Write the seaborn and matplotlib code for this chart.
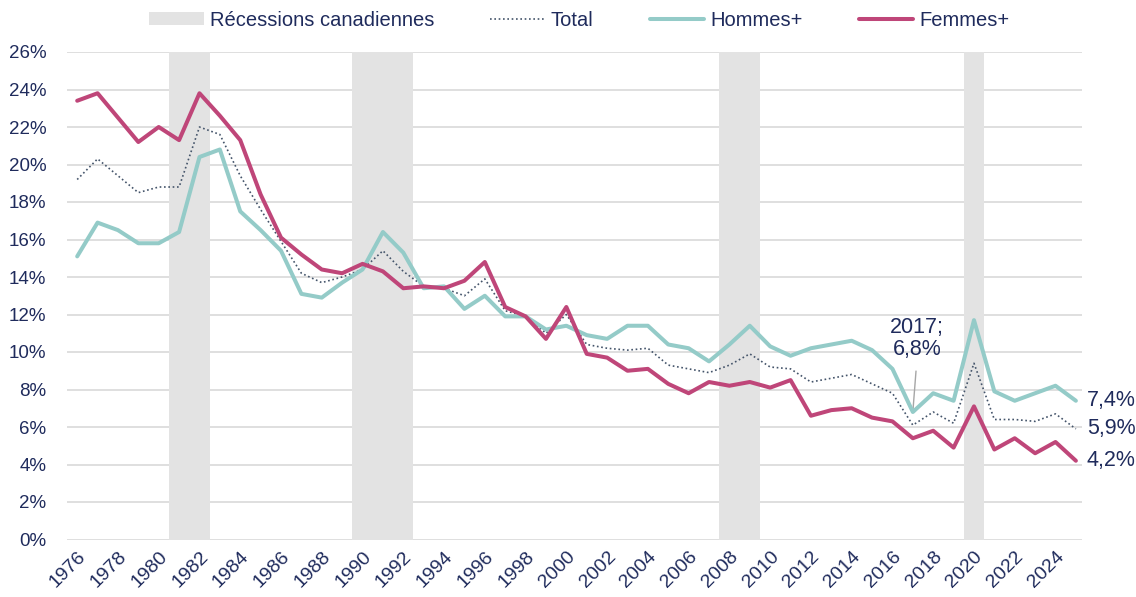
import matplotlib
matplotlib.use("Agg")
import matplotlib.pyplot as plt
from matplotlib.patches import Patch
from matplotlib.lines import Line2D
from matplotlib.ticker import FuncFormatter, MultipleLocator
import seaborn as sns
import pandas as pd
import numpy as np

# ---------------- data ----------------
years = list(range(1976, 2026))

total = [19.2, 20.3, 19.4, 18.5, 18.8, 18.8, 22.0, 21.6, 19.4, 17.6,
         15.9, 14.2, 13.7, 14.0, 14.4, 15.4, 14.3, 13.5, 13.4, 13.0,
         13.9, 12.2, 11.9, 11.0, 12.0, 10.4, 10.2, 10.1, 10.2, 9.3,
         9.1, 8.9, 9.3, 9.9, 9.2, 9.1, 8.4, 8.6, 8.8, 8.3,
         7.8, 6.1, 6.8, 6.2, 9.4, 6.4, 6.4, 6.3, 6.7, 5.9]

hommes = [15.1, 16.9, 16.5, 15.8, 15.8, 16.4, 20.4, 20.8, 17.5, 16.5,
          15.4, 13.1, 12.9, 13.7, 14.4, 16.4, 15.3, 13.4, 13.5, 12.3,
          13.0, 11.9, 11.9, 11.2, 11.4, 10.9, 10.7, 11.4, 11.4, 10.4,
          10.2, 9.5, 10.4, 11.4, 10.3, 9.8, 10.2, 10.4, 10.6, 10.1,
          9.1, 6.8, 7.8, 7.4, 11.7, 7.9, 7.4, 7.8, 8.2, 7.4]

femmes = [23.4, 23.8, 22.5, 21.2, 22.0, 21.3, 23.8, 22.6, 21.3, 18.4,
          16.1, 15.2, 14.4, 14.2, 14.7, 14.3, 13.4, 13.5, 13.4, 13.8,
          14.8, 12.4, 11.9, 10.7, 12.4, 9.9, 9.7, 9.0, 9.1, 8.3,
          7.8, 8.4, 8.2, 8.4, 8.1, 8.5, 6.6, 6.9, 7.0, 6.5,
          6.3, 5.4, 5.8, 4.9, 7.1, 4.8, 5.4, 4.6, 5.2, 4.2]

rec_start = [1981, 1990, 2008, 2020]
rec_end = [1982, 1992, 2009, 2020]

series_names = ["Total", "Hommes+", "Femmes+"]
legend_rec = "Récessions canadiennes"
end_labels = ["5,9%", "7,4%", "4,2%"]
annot_year = 2017
annot_text = "2017;\n6,8%"

# ---------------- style ----------------
TEXT = "#1f2b5c"
C_TOTAL = "#44546a"
C_H = "#94cbc8"
C_F = "#bf4679"
C_REC = "#e3e3e3"
C_GRID = "#d9d9d9"

sns.set_theme(style="white")
plt.rcParams["font.family"] = ["Liberation Sans", "DejaVu Sans"]

df = pd.DataFrame({"year": years, "Total": total, "Hommes+": hommes, "Femmes+": femmes})

fig = plt.figure(figsize=(11.36, 5.97), dpi=100)
ax = fig.add_axes([67 / 1136, 1 - 539.5 / 597, (1082 - 67) / 1136, (539.5 - 52) / 597])

# recession shading
for s, e in zip(rec_start, rec_end):
    ax.axvspan(s - 0.5, e + 0.5, color=C_REC, lw=0, zorder=1)

sns.lineplot(data=df, x="year", y="Total", ax=ax, color=C_TOTAL, lw=1.2,
             linestyle=(0, (1, 1.6)), zorder=3)
sns.lineplot(data=df, x="year", y="Hommes+", ax=ax, color=C_H, lw=2.9, zorder=4)
sns.lineplot(data=df, x="year", y="Femmes+", ax=ax, color=C_F, lw=2.9, zorder=5)

ax.set_xlim(1975.5, 2025.3)
ax.set_ylim(0, 26)
ax.yaxis.set_major_locator(MultipleLocator(2))
ax.yaxis.set_major_formatter(FuncFormatter(lambda v, p: f"{int(round(v))}%"))
ax.set_xticks(years[::2])
ax.set_xlabel("")
ax.set_ylabel("")

ax.set_axisbelow(True)
ax.grid(axis="y", color=C_GRID, lw=1.2, zorder=0)
ax.grid(axis="x", visible=False)
for sp in ax.spines.values():
    sp.set_visible(False)

ax.tick_params(axis="y", length=0, pad=15, labelsize=13.5, labelcolor=TEXT)
ax.tick_params(axis="x", length=0, pad=6, labelsize=14, labelcolor=TEXT)
for lbl in ax.get_xticklabels():
    lbl.set_rotation(45)
    lbl.set_ha("right")
    lbl.set_va("top")
    lbl.set_rotation_mode("anchor")

# end labels
last = len(years) - 1
for vals, txt in zip([total, hommes, femmes], end_labels):
    ax.annotate(txt, xy=(years[last], vals[last]), xytext=(8, 0),
                textcoords="offset points", ha="left", va="center",
                fontsize=15.5, color=TEXT, annotation_clip=False)

# 2017 annotation
ia = years.index(annot_year)
ax.annotate(annot_text, xy=(years[ia], hommes[ia]), xytext=(annot_year + 0.2, 9.6),
            textcoords="data", ha="center", va="bottom", fontsize=15.5,
            color=TEXT, linespacing=1.05,
            arrowprops=dict(arrowstyle="-", color="#a6a6a6", lw=1.0,
                            shrinkA=6, shrinkB=2, relpos=(0.5, 0)))

# legend
handles = [
    Patch(facecolor=C_REC, edgecolor="none", label=legend_rec),
    Line2D([], [], color=C_TOTAL, lw=1.2, linestyle=(0, (1, 1.6)), label=series_names[0]),
    Line2D([], [], color=C_H, lw=2.9, label=series_names[1]),
    Line2D([], [], color=C_F, lw=2.9, label=series_names[2]),
]
leg = fig.legend(handles=handles, loc="center", bbox_to_anchor=(0.51, 1 - 20 / 597),
                 ncol=4, frameon=False, fontsize=14.5, handlelength=2.7,
                 handletextpad=0.3, columnspacing=2.8, handleheight=0.6)
for t in leg.get_texts():
    t.set_color(TEXT)

fig.savefig("out.png", dpi=100)
